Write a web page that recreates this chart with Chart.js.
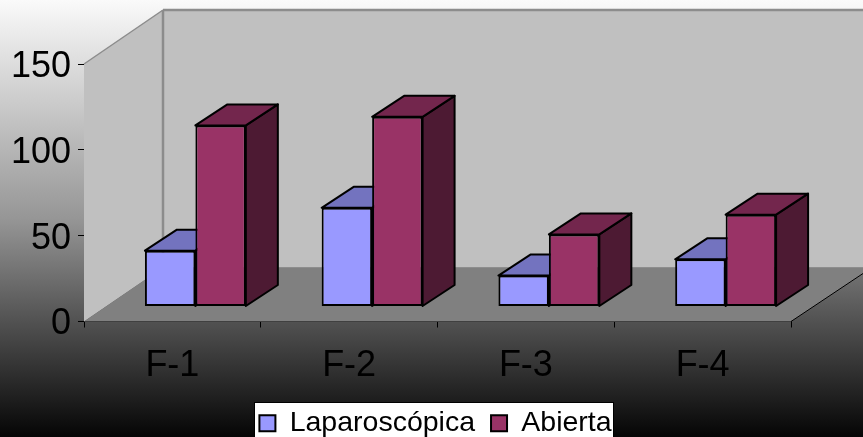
<!DOCTYPE html>
<html>
<head>
<meta charset="utf-8">
<style>
  html, body { margin: 0; padding: 0; background: #000; }
  canvas { display: block; }
</style>
<script src="https://cdn.jsdelivr.net/npm/chart.js@4"></script>
</head>
<body>
<canvas id="chart" width="863" height="437"></canvas>
<script>
// Chart data
const categories = ["F-1", "F-2", "F-3", "F-4"];
const laparoscopica = [32.5, 57.5, 18, 27.5];
const abierta = [105.5, 110.5, 42, 53.5];
const seriesNames = ["Laparoscópica", "Abierta"];
const yTicks = [0, 50, 100, 150];

// Fake 3D depth of the walls and of the bars, in pixels
const wallDepth = { x: 79, y: -54 };
const barDepth = { x: 32, y: -21 };
const barShift = { x: 23, y: -15 };

const sideColors = [
  { top: "#7373bf", side: "#4d4d80" },
  { top: "#73264d", side: "#4d1a33" }
];

function polygon(ctx, points, fill, stroke, lineWidth) {
  ctx.beginPath();
  points.forEach((p, i) => (i ? ctx.lineTo(p[0], p[1]) : ctx.moveTo(p[0], p[1])));
  ctx.closePath();
  if (fill) {
    ctx.fillStyle = fill;
    ctx.fill();
  }
  if (stroke) {
    ctx.strokeStyle = stroke;
    ctx.lineWidth = lineWidth;
    ctx.stroke();
  }
}

// Slide background, white at the top to black at the bottom, and the legend box
const backgroundPlugin = {
  id: "slideBackground",
  afterLayout(chart) {
    // the legend sits lower and further right than Chart.js puts it
    chart.legend.top = 393;
    chart.legend.left += 40;
    chart.legend.right += 40;
  },
  beforeDraw(chart) {
    const { ctx, width, height } = chart;
    const gradient = ctx.createLinearGradient(0, 0, 0, height);
    gradient.addColorStop(0, "#fafafa");
    gradient.addColorStop(0.5, "#969696");
    gradient.addColorStop(1, "#050505");
    ctx.fillStyle = gradient;
    ctx.fillRect(0, 0, width, height);

    ctx.fillStyle = "#ffffff";
    ctx.fillRect(254, 402, 360, 40);
    ctx.strokeStyle = "#000000";
    ctx.lineWidth = 1;
    ctx.strokeRect(254.5, 402.5, 359, 40);
  }
};

// Walls and floor behind the bars
const wallsPlugin = {
  id: "walls",
  beforeDatasetsDraw(chart) {
    const { ctx, chartArea: a } = chart;
    const dx = wallDepth.x, dy = wallDepth.y;
    ctx.save();
    polygon(ctx, [[a.left, a.top], [a.left + dx, a.top + dy], [a.left + dx, a.bottom + dy], [a.left, a.bottom]], "#c0c0c0");
    polygon(ctx, [[a.left + dx, a.top + dy], [a.right + dx + 2, a.top + dy], [a.right + dx + 2, a.bottom + dy], [a.left + dx, a.bottom + dy]], "#c0c0c0");

    ctx.strokeStyle = "#8c8c8c";
    ctx.lineWidth = 2.5;
    ctx.beginPath();
    ctx.moveTo(a.left + dx, a.top + dy);
    ctx.lineTo(a.left + dx, a.bottom + dy);
    ctx.moveTo(a.left + dx, a.top + dy);
    ctx.lineTo(a.right + dx + 2, a.top + dy);
    ctx.stroke();
    ctx.lineWidth = 1.5;
    ctx.beginPath();
    ctx.moveTo(a.left, a.top);
    ctx.lineTo(a.left + dx, a.top + dy);
    ctx.stroke();

    polygon(ctx, [[a.left, a.bottom], [a.right, a.bottom], [a.right + dx + 2, a.bottom + dy], [a.left + dx, a.bottom + dy]], "#808080");

    ctx.strokeStyle = "#000000";
    ctx.lineWidth = 1;
    ctx.beginPath();
    ctx.moveTo(a.right, a.bottom);
    ctx.lineTo(a.right + dx + 2, a.bottom + dy);
    ctx.stroke();
    ctx.restore();
  }
};

// Top and side faces of the bars, then each series gets shifted back onto the floor
const barFacesPlugin = {
  id: "barFaces",
  beforeDatasetsDraw(chart) {
    const { ctx } = chart;
    const dx = barDepth.x, dy = barDepth.y;
    ctx.save();
    ctx.translate(barShift.x, barShift.y);
    ctx.lineJoin = "round";
    categories.forEach((name, i) => {
      seriesNames.forEach((s, d) => {
        const bar = chart.getDatasetMeta(d).data[i];
        const left = bar.x - bar.width / 2;
        const right = bar.x + bar.width / 2;
        polygon(ctx, [[right, bar.y], [right + dx, bar.y + dy], [right + dx, bar.base + dy], [right, bar.base]], sideColors[d].side, "#000000", 2);
        polygon(ctx, [[left, bar.y], [left + dx, bar.y + dy], [right + dx, bar.y + dy], [right, bar.y]], sideColors[d].top, "#000000", 2);
      });
    });
    ctx.restore();
  },
  beforeDatasetDraw(chart) {
    chart.ctx.save();
    chart.ctx.translate(barShift.x, barShift.y);
  },
  afterDatasetDraw(chart) {
    chart.ctx.restore();
  }
};

new Chart(document.getElementById("chart"), {
  type: "bar",
  data: {
    labels: categories,
    datasets: [
      { label: seriesNames[0], data: laparoscopica, backgroundColor: "#9999ff", borderColor: "#000000", borderWidth: 2, borderSkipped: false },
      { label: seriesNames[1], data: abierta, backgroundColor: "#993366", borderColor: "#000000", borderWidth: 2, borderSkipped: false }
    ]
  },
  options: {
    responsive: false,
    animation: false,
    devicePixelRatio: 1,
    layout: { padding: { left: 0, top: 64, right: 72, bottom: 0 } },
    datasets: { bar: { categoryPercentage: 0.571, barPercentage: 1 } },
    scales: {
      x: {
        grid: { drawOnChartArea: false, color: "#000000", tickLength: 6 },
        border: { color: "#000000" },
        ticks: { color: "#000000", font: { family: "Liberation Sans", size: 36 }, padding: 17, maxRotation: 0 },
        afterFit(scale) { scale.height = 61; }
      },
      y: {
        min: 0,
        max: 150,
        afterBuildTicks(scale) { scale.ticks = yTicks.map(value => ({ value })); },
        grid: { drawOnChartArea: false, color: "#000000", tickLength: 6 },
        border: { color: "#000000" },
        ticks: { color: "#000000", font: { family: "Liberation Sans", size: 36 }, padding: 7, labelOffset: 3 },
        afterFit(scale) { scale.width = 84; }
      }
    },
    plugins: {
      tooltip: { enabled: false },
      legend: {
        position: "bottom",
        labels: {
          color: "#000000",
          font: { family: "Liberation Sans", size: 28.5 },
          boxWidth: 16,
          boxHeight: 16,
          padding: 16
        }
      }
    }
  },
  plugins: [backgroundPlugin, wallsPlugin, barFacesPlugin]
});
</script>
</body>
</html>
